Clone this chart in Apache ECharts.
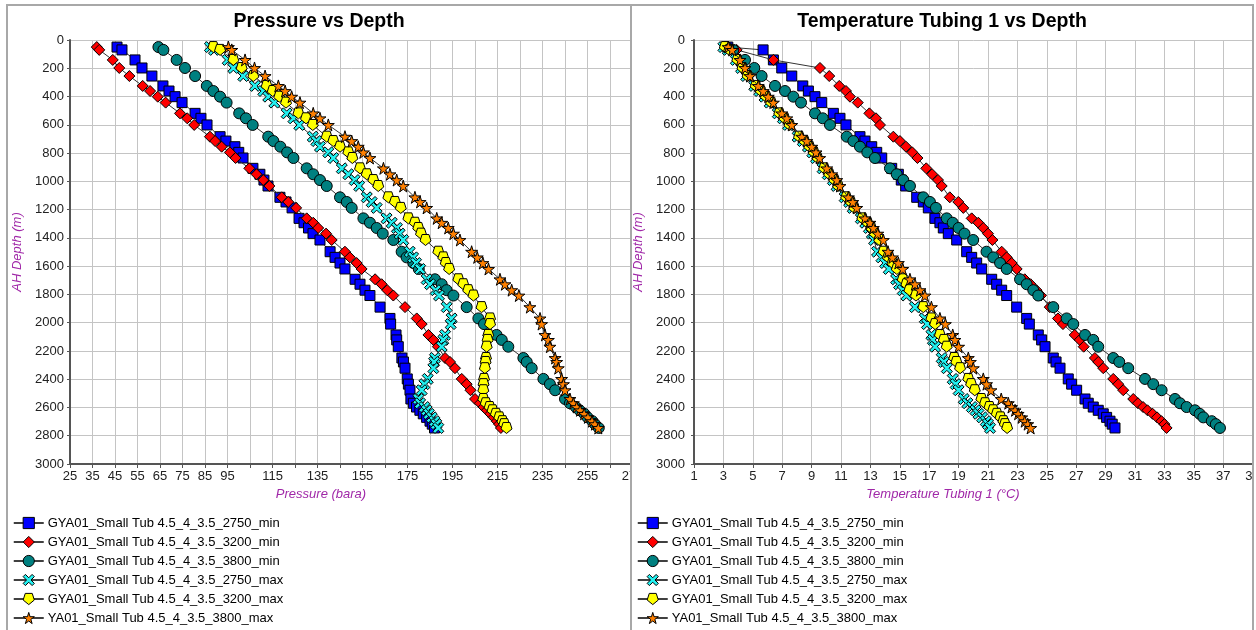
<!DOCTYPE html>
<html><head><meta charset="utf-8">
<script src="https://cdn.jsdelivr.net/npm/echarts@6/dist/echarts.min.js"></script>
<style>
html,body{margin:0;padding:0;width:1256px;height:630px;overflow:hidden;background:#fff}
.clip{position:absolute;top:0;height:630px;overflow:hidden}
#clipL{left:0;width:630px}
#clipR{left:632px;width:620px}
.chart{position:absolute;left:0;top:0;width:700px;height:630px}
.bl{position:absolute;background:#a8a8a8}
</style></head>
<body>
<div id="clipL" class="clip"><div id="cL" class="chart"></div></div>
<div id="clipR" class="clip"><div id="cR" class="chart"></div></div>
<div class="bl" style="left:6px;top:4px;width:2px;height:626px"></div>
<div class="bl" style="left:6px;top:4px;width:1248px;height:2px"></div>
<div class="bl" style="left:630px;top:4px;width:2px;height:626px"></div>
<div class="bl" style="left:1252px;top:4px;width:2px;height:626px"></div>
<script>
// ---- data ----
const seriesNames = [
  'GYA01_Small Tub 4.5_4_3.5_2750_min',
  'GYA01_Small Tub 4.5_4_3.5_3200_min',
  'GYA01_Small Tub 4.5_4_3.5_3800_min',
  'GYA01_Small Tub 4.5_4_3.5_2750_max',
  'GYA01_Small Tub 4.5_4_3.5_3200_max',
  'YA01_Small Tub 4.5_4_3.5_3800_max'
];
const depths = [50,70,141,198,255,325,361,401,443,519,554,601,684,715,755,795,835,908,950,991,1033,1113,1146,1188,1262,1293,1330,1370,1415,1498,1538,1578,1620,1693,1728,1770,1808,1890,1970,2010,2087,2122,2170,2250,2278,2322,2398,2435,2478,2540,2570,2597,2620,2645,2670,2697,2718,2745];

const pres2750min = [45.9,48.1,53.9,57.0,61.4,66.3,69.0,71.7,74.8,80.6,83.2,85.9,91.7,94.3,98.3,100.0,101.9,106.3,109.4,111.2,113.0,118.3,121.0,123.7,126.8,129.0,131.0,133.0,136.1,140.6,142.8,145.0,147.2,151.7,153.9,156.1,158.3,162.8,167.2,167.5,169.9,170.2,170.9,172.5,173.2,173.9,174.9,175.4,176.1,176.5,177.6,179.0,180.5,182.0,183.5,185.0,186.0,187.0];
const pres3200min = [36.9,38.0,44.0,46.9,51.4,57.3,60.6,64.0,67.5,73.9,77.1,80.2,87.2,89.5,92.4,96.1,98.6,104.7,107.9,110.9,113.6,119.1,122.0,125.5,130.2,133.1,135.3,138.8,141.3,147.2,149.4,152.4,154.6,160.6,163.5,166.0,168.7,173.9,179.1,181.3,184.3,186.5,188.5,191.7,193.9,196.1,199.1,201.3,203.0,205.0,207.2,208.8,210.3,211.8,213.3,214.7,215.7,216.5];
const pres3800min = [64.3,66.5,72.4,76.1,80.6,85.8,88.7,91.7,94.6,100.2,103.2,106.2,113.1,115.4,118.5,121.5,124.3,130.2,133.1,136.1,139.1,145.0,148.0,150.2,155.4,158.3,161.3,164.0,168.7,172.4,174.6,177.6,180.0,187.2,190.2,192.4,195.4,201.3,206.5,209.0,214.6,216.9,219.8,226.5,228.0,230.2,235.4,238.3,240.6,245.0,247.2,249.8,251.5,253.6,255.0,257.2,258.3,260.0];
const pres2750max = [87.2,89.0,95.1,97.6,102.0,107.2,110.9,113.1,115.8,121.3,124.3,126.9,132.9,134.5,136.1,139.8,142.0,145.8,148.7,151.5,153.5,156.9,159.1,161.3,165.7,168.0,170.3,171.5,173.1,176.0,177.5,178.8,180.6,183.5,185.0,187.5,189.0,192.4,194.6,194.2,191.7,190.9,190.2,187.2,186.8,186.5,184.0,182.5,181.3,179.8,180.6,182.5,183.5,184.5,185.8,187.0,187.8,188.7];
const pres3200max = [88.7,91.7,97.6,101.3,106.5,112.4,115.1,118.0,121.0,126.5,129.9,132.9,139.1,142.0,145.0,148.7,150.5,153.9,156.9,159.8,162.0,166.5,169.4,172.0,175.4,178.3,179.8,181.0,183.0,188.7,190.9,192.0,193.5,197.6,199.8,202.0,204.3,207.9,211.7,211.7,210.9,210.6,210.2,209.9,209.7,209.4,209.0,208.8,208.7,208.7,209.8,211.5,212.8,214.3,215.8,217.2,218.0,219.0];
const pres3800max = [95.4,96.9,102.8,107.0,111.7,117.6,120.6,123.5,127.2,133.1,136.1,139.8,147.2,150.2,153.1,155.4,158.3,164.3,167.2,170.2,173.1,178.3,180.6,183.5,188.0,190.2,193.1,195.4,198.3,203.5,206.0,208.5,211.0,216.1,218.3,221.3,224.5,229.4,233.9,234.6,236.1,237.6,238.3,240.6,241.3,242.0,243.5,244.3,245.0,247.2,248.7,250.2,251.7,253.5,255.2,257.0,258.3,259.8];

const temp2750min = [3.3,5.7,6.4,6.97,7.65,8.4,8.78,9.23,9.69,10.48,10.93,11.34,12.29,12.63,13.09,13.43,13.77,14.45,14.9,15.1,15.4,16.15,16.6,16.94,17.39,17.73,17.96,18.3,18.87,19.55,19.89,20.23,20.57,21.25,21.59,21.93,22.27,22.95,23.63,23.81,24.42,24.65,24.88,25.44,25.63,25.9,26.46,26.69,27.03,27.6,27.82,28.16,28.5,28.84,29.07,29.3,29.45,29.64];
const temp3200min = [3.2,3.9,6.4,9.57,10.2,10.88,11.34,11.61,12.14,12.93,13.38,13.65,14.56,15.01,15.42,15.85,16.2,16.8,17.2,17.6,17.85,18.4,18.98,19.32,19.89,20.34,20.68,21.0,21.3,21.93,22.27,22.61,22.95,23.5,23.9,24.3,24.6,25.2,25.76,26.1,26.9,27.24,27.51,28.27,28.5,28.84,29.52,29.86,30.2,30.88,31.2,31.55,31.85,32.2,32.5,32.8,33.0,33.15];
const temp3800min = [3.22,3.67,4.47,5.1,5.6,6.51,7.19,7.76,8.28,9.23,9.76,10.25,11.39,11.84,12.29,12.79,13.31,14.33,14.79,15.24,15.69,16.6,17.05,17.46,18.19,18.6,19.0,19.4,19.99,20.9,21.36,21.82,22.27,23.18,23.63,24.08,24.42,25.44,26.35,26.8,27.6,28.16,28.5,29.52,29.93,30.54,31.68,32.24,32.81,33.72,34.06,34.51,35.08,35.4,35.65,36.22,36.5,36.78];
const temp2750max = [3.0,3.3,3.85,4.2,4.55,5.1,5.45,5.8,6.15,6.7,7.05,7.4,8.05,8.4,8.75,9.05,9.3,9.75,10.1,10.45,10.7,11.25,11.55,11.8,12.35,12.65,12.9,13.1,13.25,13.45,13.75,14.0,14.25,14.75,14.95,15.2,15.45,16.03,16.7,16.85,17.15,17.25,17.4,17.85,18.0,18.2,18.6,18.8,19.0,19.35,19.6,19.9,20.15,20.35,20.6,20.85,21.0,21.14];
const temp3200max = [3.1,3.4,3.95,4.3,4.65,5.2,5.55,5.9,6.25,6.8,7.15,7.5,8.15,8.5,8.85,9.15,9.4,9.85,10.2,10.55,10.8,11.35,11.65,11.9,12.45,12.8,13.05,13.3,13.6,13.9,14.2,14.5,14.8,15.2,15.45,15.65,16.1,16.6,17.15,17.4,17.73,18.0,18.19,18.7,18.85,19.1,19.66,19.85,20.1,20.55,20.8,21.1,21.35,21.6,21.85,22.05,22.15,22.3];
const temp3800max = [3.33,3.6,4.13,4.47,4.81,5.37,5.71,6.05,6.4,6.97,7.31,7.65,8.33,8.67,9.01,9.3,9.55,10.03,10.37,10.71,10.93,11.5,11.8,12.07,12.63,12.97,13.2,13.5,13.88,14.2,14.5,14.9,15.2,15.69,16.03,16.37,16.71,17.15,17.73,18.1,18.6,18.75,19.0,19.66,19.8,20.0,20.68,20.9,21.2,21.9,22.38,22.6,22.84,23.05,23.29,23.5,23.7,23.9];

const pressureTickLabels = [25,35,45,55,65,75,85,95,115,135,155,175,195,215,235,255,275];
const tempTickLabels = [1,3,5,7,9,11,13,15,17,19,21,23,25,27,29,31,33,35,37,39];

// ---- styling ----
const FONT = '"Liberation Sans", Arial, sans-serif';
const PURPLE = '#a028a8';
const markers = [
  {symbol:'rect', size:10, color:'#0000ff'},
  {symbol:'diamond', size:11, color:'#ff0000'},
  {symbol:'circle', size:11, color:'#008080'},
  {symbol:'path://M0,20 L20,0 L50,30 L80,0 L100,20 L70,50 L100,80 L80,100 L50,70 L20,100 L0,80 L30,50 Z', size:11, color:'#22f0f0'},
  {symbol:'path://M19,0 L81,0 L100,59 L50,100 L0,59 Z', size:11, color:'#ffff00'},
  {symbol:'path://M50,0 L61,35 L98,35 L68,57 L79,91 L50,70 L21,91 L32,57 L2,35 L39,35 Z', size:12, color:'#ff8000'}
];

function buildSeries(valueArrays){
  return valueArrays.map((vals,k)=>({
    type:'line', name: seriesNames[k],
    data: depths.map((d,i)=>[vals[i], d]),
    symbol: markers[k].symbol, symbolSize: markers[k].size,
    showSymbol:true, showAllSymbol:true,
    itemStyle:{color:markers[k].color, borderColor:'#000', borderWidth:1},
    lineStyle:{color:'#333', width:1},
    emphasis:{disabled:true}, animation:false, silent:true, z:2+k
  }));
}

function buildOption(cfg){
  const axisLineStyle = {color:'#555', width:2};
  return {
    animation:false,
    textStyle:{fontFamily:FONT},
    grid:{left:cfg.gridLeft, top:40, width:cfg.gridWidth, height:424, containLabel:false, outerBoundsMode:'none'},
    xAxis:{
      type:'value', min:cfg.xmin, max:cfg.xmax, interval:cfg.xint,
      axisLine:{show:true, onZero:false, lineStyle:axisLineStyle},
      axisTick:{show:true, length:4, lineStyle:{color:'#555', width:1}},
      axisLabel:{color:'#222', fontSize:13, fontFamily:FONT, margin:6, hideOverlap:false,
        showMinLabel:true, showMaxLabel:true,
        formatter: v => cfg.labels.indexOf(Math.round(v)) >= 0 ? String(Math.round(v)) : ''},
      splitLine:{show:true, lineStyle:{color:'#c4c4c4', width:1}}
    },
    yAxis:{
      type:'value', inverse:true, min:0, max:3000, interval:200,
      name:'AH Depth (m)', nameLocation:'middle', nameGap:cfg.nameGap,
      nameTextStyle:{color:PURPLE, fontStyle:'italic', fontSize:13, fontFamily:FONT},
      axisLine:{show:true, onZero:false, lineStyle:axisLineStyle},
      axisTick:{show:true, length:3, lineStyle:{color:'#555', width:1}},
      axisLabel:{color:'#222', fontSize:13, fontFamily:FONT, margin:cfg.yMargin, hideOverlap:false,
        formatter: v => String(v)},
      splitLine:{show:true, lineStyle:{color:'#c4c4c4', width:1}}
    },
    legend:{
      orient:'vertical', left:cfg.legendLeft, top:516, padding:0,
      itemWidth:30, itemHeight:14, itemGap:5, selectedMode:false,
      textStyle:{color:'#000', fontSize:13, lineHeight:14, fontFamily:FONT, padding:[0,0,0,-1]},
      data: seriesNames.map((n,k)=>({
        name:n,
        itemStyle:{color:markers[k].color, borderColor:'#000', borderWidth:1},
        lineStyle:{color:'#000', width:1.5}
      }))
    },
    graphic:[
      {type:'text', x:cfg.titleX, y:22, silent:true,
        style:{text:cfg.title, fill:'#000', font:'bold 19.5px ' + FONT, textAlign:'center', textVerticalAlign:'middle', align:'center', verticalAlign:'middle'}},
      {type:'text', x:cfg.xNameX, y:494, silent:true,
        style:{text:cfg.xName, fill:PURPLE, font:'italic 13px ' + FONT, textAlign:'center', textVerticalAlign:'middle', align:'center', verticalAlign:'middle'}}
    ],
    series: buildSeries(cfg.values)
  };
}

const chartL = echarts.init(document.getElementById('cL'), null, {renderer:'canvas'});
chartL.setOption(buildOption({
  gridLeft:70, gridWidth:562.5, xmin:25, xmax:275, xint:10, labels:pressureTickLabels,
  nameGap:43, yMargin:6, legendLeft:13, titleX:319, title:'Pressure vs Depth',
  xNameX:321, xName:'Pressure (bara)',
  values:[pres2750min,pres3200min,pres3800min,pres2750max,pres3200max,pres3800max]
}));

const chartR = echarts.init(document.getElementById('cR'), null, {renderer:'canvas'});
chartR.setOption(buildOption({
  gridLeft:62, gridWidth:558.6, xmin:1, xmax:39, xint:2, labels:tempTickLabels,
  nameGap:42, yMargin:9, legendLeft:5, titleX:310, title:'Temperature Tubing 1 vs Depth',
  xNameX:311, xName:'Temperature Tubing 1 (°C)',
  values:[temp2750min,temp3200min,temp3800min,temp2750max,temp3200max,temp3800max]
}));
</script>
</body></html>
